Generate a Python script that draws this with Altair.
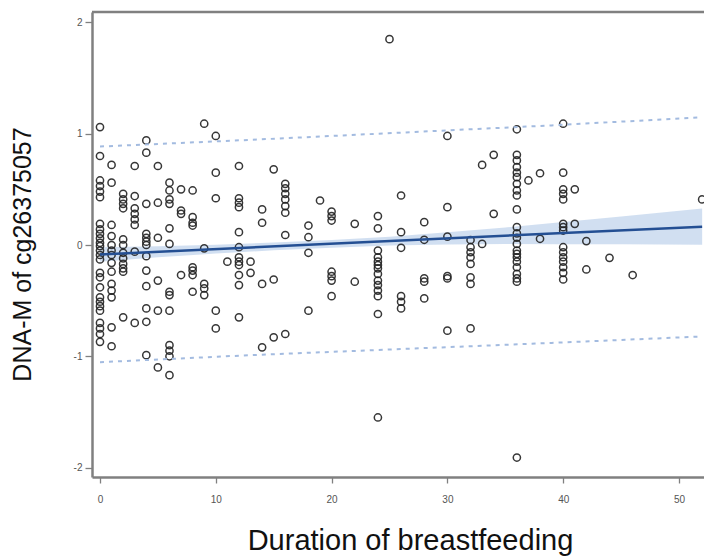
import altair as alt
import pandas as pd

# Observed values: months of breastfeeding and DNA-M of cg26375057,
# grouped by month.
m0 = [1.06, 0.80, 0.58, 0.53, 0.48, 0.43, 0.19, 0.14, 0.10, 0.06, 0.02, -0.01,
      -0.05, -0.09, -0.13, -0.25, -0.29, -0.38, -0.47, -0.51, -0.55, -0.59,
      -0.70, -0.75, -0.80, -0.87]
m1 = [0.72, 0.56, 0.18, 0.08, 0.0, -0.05, -0.09, -0.16, -0.24, -0.35, -0.41,
      -0.47, -0.74, -0.91]
m2 = [0.46, 0.41, 0.37, 0.33, 0.05, 0.0, -0.07, -0.12, -0.17, -0.21, -0.24, -0.65]
m3 = [0.71, 0.44, 0.33, 0.28, 0.23, 0.18, -0.06, -0.70]
m4 = [0.94, 0.83, 0.37, 0.10, 0.065, 0.03, 0.0, -0.10, -0.23, -0.37, -0.57,
      -0.69, -0.99]
m5 = [0.71, 0.38, 0.065, -0.32, -0.59, -1.10]
m6 = [0.56, 0.49, 0.41, 0.37, 0.15, 0.01, -0.42, -0.45, -0.59, -0.90, -0.95,
      -1.0, -1.17]
m7 = [0.50, 0.31, 0.28, -0.27]
m8 = [0.49, 0.25, 0.20, 0.175, -0.20, -0.23, -0.27, -0.42]
m9 = [1.09, -0.03, -0.35, -0.39, -0.45]
m10 = [0.98, 0.65, 0.42, -0.59, -0.75]
m11 = [-0.15]
m12 = [0.71, 0.42, 0.38, 0.34, 0.115, -0.02, -0.11, -0.15, -0.18, -0.27, -0.36, -0.65]
m13 = [-0.15, -0.25]
m14 = [0.32, 0.20, -0.35, -0.92]
m15 = [0.68, -0.31, -0.83]
m16 = [0.55, 0.51, 0.46, 0.41, 0.35, 0.29, 0.09, -0.80]
m18 = [0.175, 0.07, -0.07, -0.59]
m19 = [0.40]
m20 = [0.30, 0.26, 0.22, -0.24, -0.28, -0.32, -0.46]
m22 = [0.19, -0.33]
m24 = [0.26, 0.15, -0.05, -0.11, -0.15, -0.18, -0.21, -0.26, -0.32, -0.36,
       -0.41, -0.46, -0.62, -1.55]
m25 = [1.85]
m26 = [0.445, 0.115, -0.025, -0.46, -0.51, -0.57]
m28 = [0.205, 0.047, -0.30, -0.33, -0.48]
m30 = [0.98, 0.34, 0.075, -0.28, -0.30, -0.77]
m32 = [0.045, -0.02, -0.065, -0.11, -0.17, -0.29, -0.35, -0.75]
m33 = [0.72, 0.01]
m34 = [0.81, 0.28]
m36 = [1.04, 0.81, 0.76, 0.70, 0.65, 0.61, 0.55, 0.49, 0.445, 0.32, 0.16, 0.105,
       0.065, 0.01, -0.05, -0.08, -0.11, -0.15, -0.20, -0.26, -0.30, -0.33, -1.91]
m37 = [0.58]
m38 = [0.645, 0.056]
m40 = [1.09, 0.65, 0.50, 0.46, 0.41, 0.19, 0.16, 0.13, -0.02, -0.065, -0.11,
       -0.15, -0.20, -0.25, -0.31]
m41 = [0.50, 0.19]
m42 = [0.035, -0.22]
m44 = [-0.115]
m46 = [-0.27]
m52 = [0.41]

month_groups = {
    0: m0, 1: m1, 2: m2, 3: m3, 4: m4, 5: m5, 6: m6, 7: m7, 8: m8, 9: m9,
    10: m10, 11: m11, 12: m12, 13: m13, 14: m14, 15: m15, 16: m16, 18: m18,
    19: m19, 20: m20, 22: m22, 24: m24, 25: m25, 26: m26, 28: m28, 30: m30,
    32: m32, 33: m33, 34: m34, 36: m36, 37: m37, 38: m38, 40: m40, 41: m41,
    42: m42, 44: m44, 46: m46, 52: m52,
}

# Fitted line, 95% confidence band and 95% prediction limits
fit_x = [0, 52]
fit_y = [-0.085, 0.165]
ci_x = [0, 5, 10, 15, 20, 25, 30, 35, 40, 45, 52]
ci_lo = [-0.150, -0.111, -0.077, -0.048, -0.024, -0.005, 0.004, 0.008, 0.007, 0.006, 0.002]
ci_hi = [-0.020, -0.011, 0.003, 0.022, 0.046, 0.075, 0.114, 0.158, 0.207, 0.256, 0.328]
pi_x = [0, 13, 26, 39, 52]
pi_hi = [0.885, 0.945, 1.010, 1.075, 1.148]
pi_lo = [-1.053, -0.990, -0.935, -0.880, -0.822]

x_ticks = [0, 10, 20, 30, 40, 50]
y_ticks = [-2, -1, 0, 1, 2]

pts = pd.DataFrame(
    [(m, v) for m, vals in month_groups.items() for v in vals],
    columns=["months", "dnam"],
)
fit = pd.DataFrame({"months": fit_x, "dnam": fit_y})
ci = pd.DataFrame({"months": ci_x, "lo": ci_lo, "hi": ci_hi})
pi = pd.DataFrame(
    {"months": pi_x + pi_x, "dnam": pi_hi + pi_lo,
     "limit": ["upper"] * len(pi_x) + ["lower"] * len(pi_x)}
)

W, H = 612, 465
x_scale = alt.Scale(domain=[-0.69, 52.16], nice=False, zero=False)
y_scale = alt.Scale(domain=[-2.085, 2.094], nice=False, zero=False)

# plain hyphen for negative tick labels
hyphen_labels = "datum.value < 0 ? '-' + abs(datum.value) : '' + datum.value"

axis_common = dict(
    grid=False,
    domainColor="#808080",
    domainWidth=2.5,
    tickColor="#808080",
    tickWidth=1.3,
    labelColor="#555555",
    labelFont="Liberation Sans",
    labelFontSize=10,
    titleFont="Liberation Sans",
    titleFontWeight="normal",
    titleColor="#111111",
    labelExpr=hyphen_labels,
)

x_enc = alt.X(
    "months:Q", scale=x_scale,
    axis=alt.Axis(
        title="Duration of breastfeeding", values=x_ticks, tickSize=6,
        labelPadding=11, titleFontSize=29, titleX=318, titleY=63,
        titleAlign="center", titleBaseline="middle", **axis_common,
    ),
)
y_axis = alt.Axis(
    title="DNA-M  of cg26375057", values=y_ticks, tickSize=7, labelPadding=3,
    labelAngle=0, titleFontSize=25, titleX=-70, titleY=242, titleAngle=270,
    titleAlign="center", titleBaseline="middle", **axis_common,
)

band = alt.Chart(ci).mark_area(color="#c9d9ee", opacity=0.85).encode(
    x=x_enc,
    y=alt.Y("lo:Q", scale=y_scale, axis=y_axis),
    y2="hi:Q",
)

limits = alt.Chart(pi).mark_line(
    color="#a3bbe0", strokeWidth=2, strokeDash=[4, 5]
).encode(
    x=alt.X("months:Q", scale=x_scale),
    y=alt.Y("dnam:Q", scale=y_scale),
    detail="limit:N",
)

points = alt.Chart(pts).mark_point(
    shape="circle", filled=False, size=52, strokeWidth=1.5, color="#222222", opacity=0.9
).encode(
    x=alt.X("months:Q", scale=x_scale),
    y=alt.Y("dnam:Q", scale=y_scale),
)

line = alt.Chart(fit).mark_line(color="#244f93", strokeWidth=2.5).encode(
    x=alt.X("months:Q", scale=x_scale),
    y=alt.Y("dnam:Q", scale=y_scale),
)

# top edge of the plot frame
frame_top = alt.Chart(pd.DataFrame({"k": [0]})).mark_rule(
    color="#808080", strokeWidth=2.5
).encode(x=alt.value(0), x2=alt.value(W), y=alt.value(0))

chart = (
    alt.layer(band, points, line, limits, frame_top)
    .properties(
        width=W, height=H,
        autosize=alt.AutoSizeParams(type="none"),
        padding={"left": 92, "top": 12, "right": 0, "bottom": 79},
        background="white",
    )
    .configure_view(stroke=None)
)

chart.save("out.html", embed_options={"renderer": "svg", "actions": False})
